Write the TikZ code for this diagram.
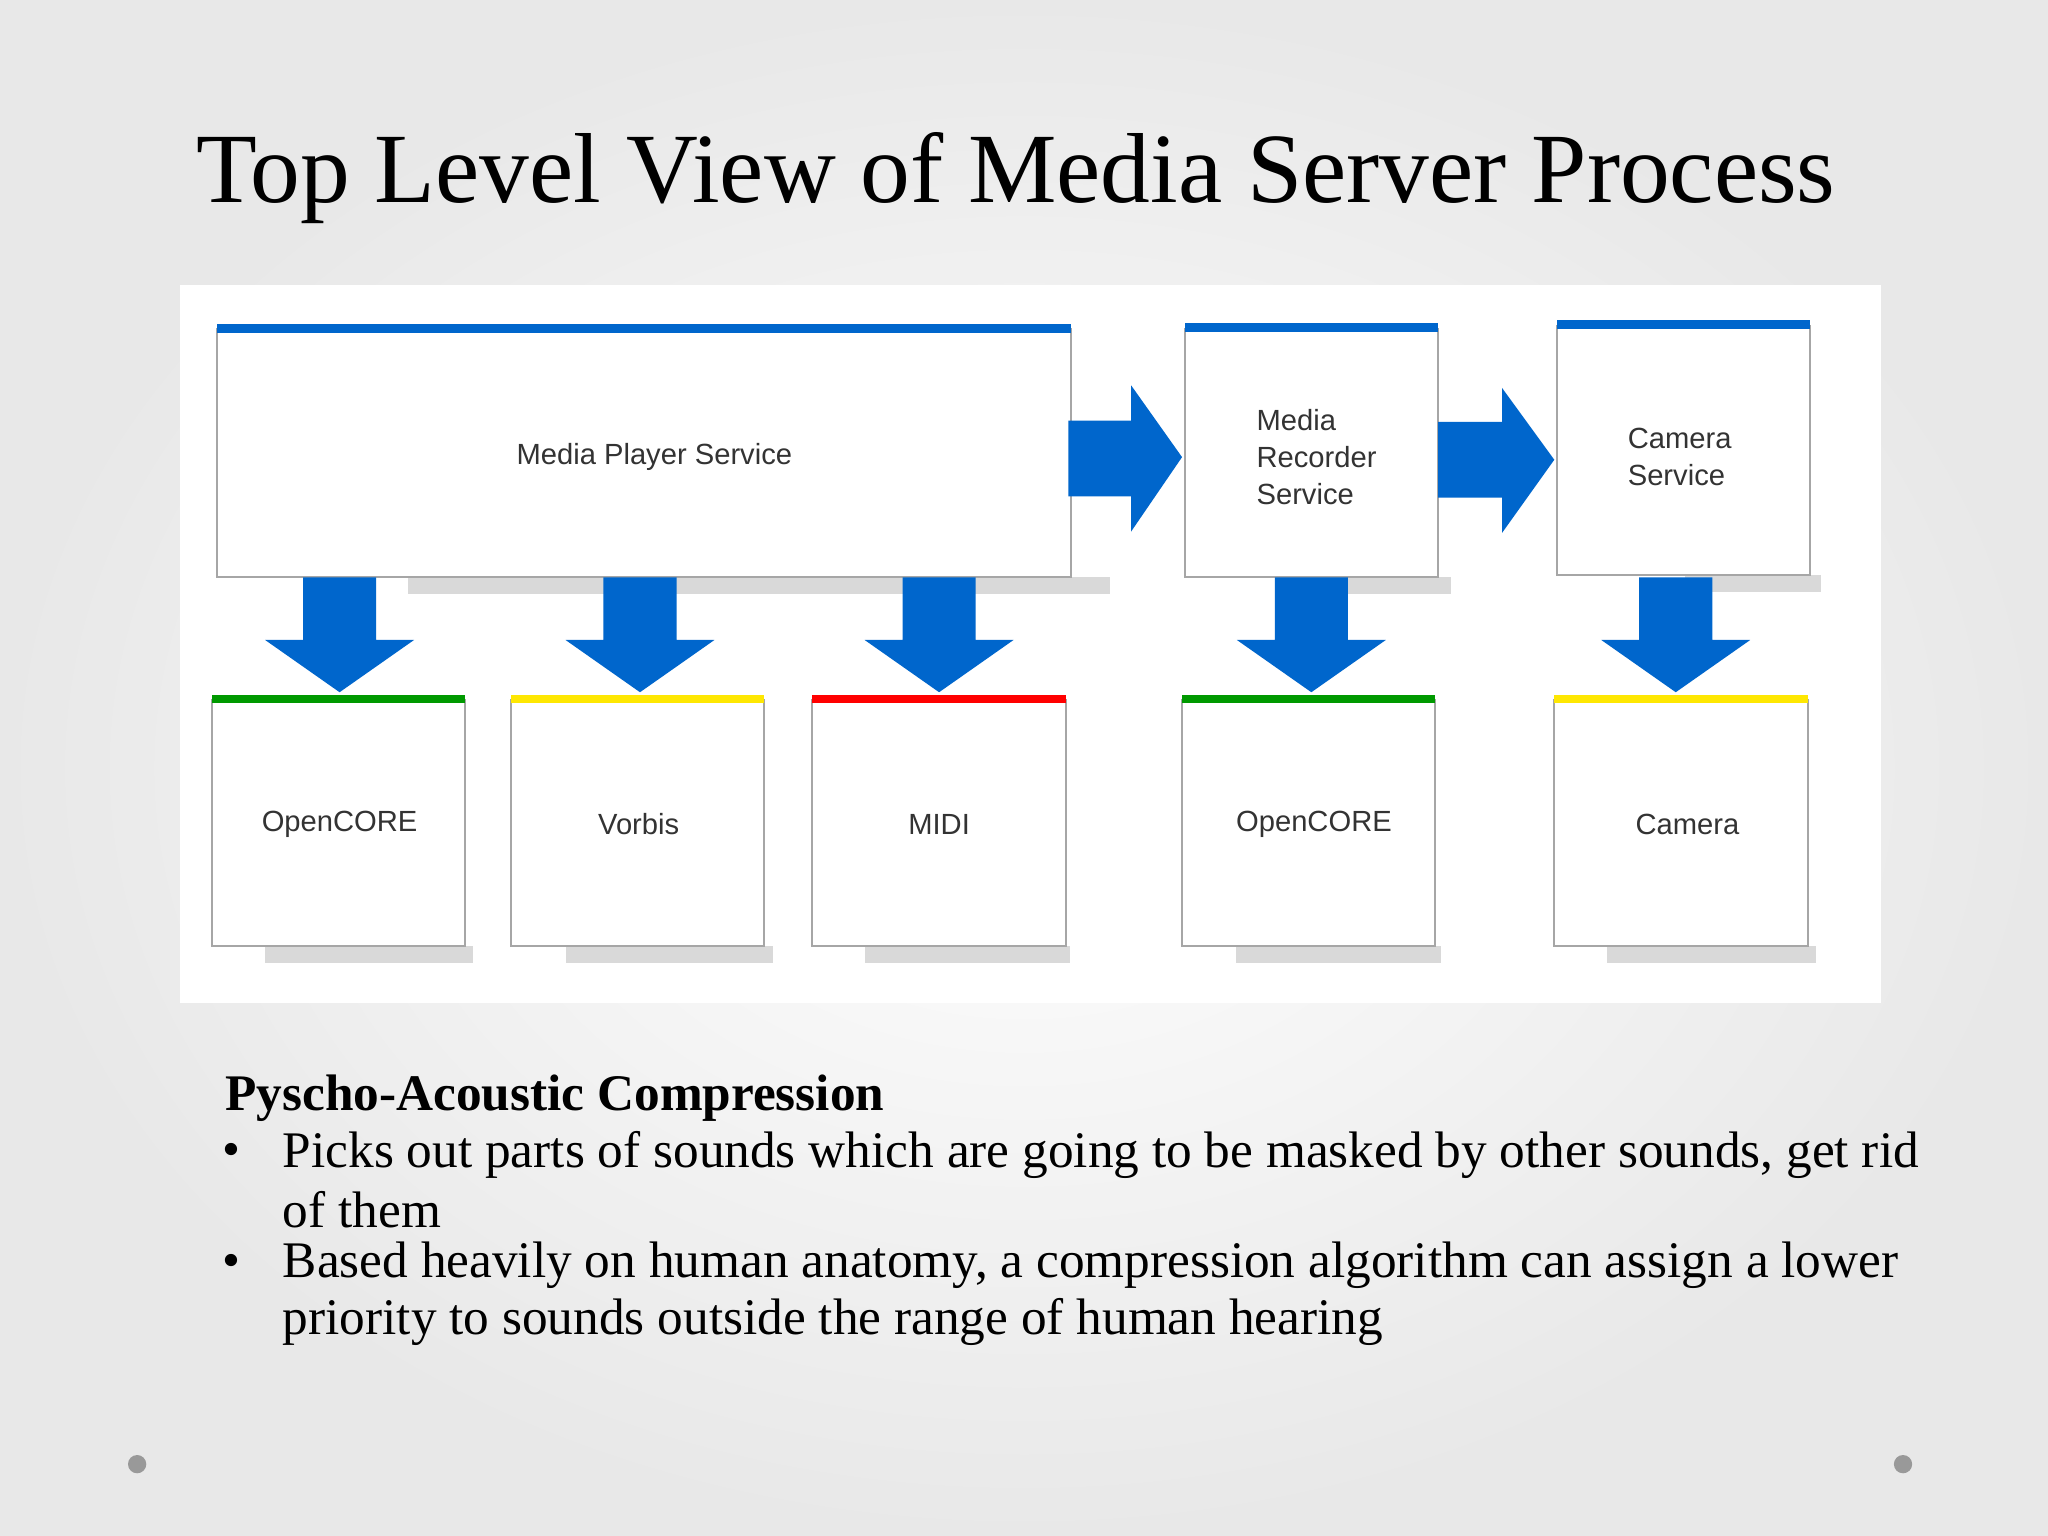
\documentclass[tikz,border=0pt]{standalone}
\usepackage{fontspec}
\setmainfont{Liberation Serif}
\newfontfamily\boxfont{Liberation Sans}
\definecolor{arrblue}{HTML}{0066CC}
\begin{document}
\begin{tikzpicture}[x=0.013061cm,y=-0.013061cm,
  box/.style={draw=gray!70,fill=white,line width=0.6pt},
  shad/.style={fill=gray!30},
  arr/.style={fill=arrblue},
  lbl/.style={font=\boxfont\fontsize{8.3pt}{10.5pt}\selectfont,align=left,text=black!80},
  body/.style={anchor=west,font=\fontsize{14.6pt}{16pt}\selectfont,inner sep=0}]
\shade[inner color=white,outer color=gray!18] (0,0) rectangle (1568,1176);
\useasboundingbox (0,0) rectangle (1568,1176);
\node[font=\fontsize{28.3pt}{32pt}\selectfont] (title) at (778,136) {Top Level View of Media Server Process};
\fill[white] (138,218) rectangle (1440,768);
% shadows
\foreach \a/\b/\c in {312/850/442, 1000/1111/442, 1290/1394/440, 203/362/724, 433/592/724, 662/819/724, 946/1103/724, 1230/1390/724}
  \fill[shad] (\a,\c) rectangle (\b,\c+13);
% boxes
\draw[box] (166,252) rectangle (820,442); \node[lbl] (mps) at (501,350) {Media Player Service};
\draw[box] (907,252) rectangle (1101,442); \node[lbl] (mrs) at (1008,350) {Media\\Recorder\\Service};
\draw[box] (1192,250) rectangle (1386,440); \node[lbl] (cs) at (1286,350) {Camera\\Service};
\foreach \x/\y/\t/\c/\n in {162/260/OpenCORE/green!60!black/o1, 391/489/Vorbis/yellow!90!orange/vo, 622/719/MIDI/red/mi, 905/1006/OpenCORE/green!60!black/o2, 1190/1292/Camera/yellow!90!orange/ca}{
  \draw[box] (\x,536) rectangle (\x+194,724);
  \fill[\c] (\x,532) rectangle (\x+194,538);
  \node[lbl] (\n) at (\y,631) {\t};
}
\fill[arrblue] (166,248) rectangle (820,255);
\fill[arrblue] (907,247) rectangle (1101,254);
\fill[arrblue] (1192,245) rectangle (1386,252);
% down arrows
\foreach \c in {260,490,719,1004,1283}
  \fill[arr] (\c-28,442) -- (\c+28,442) -- (\c+28,490) -- (\c+57,490) -- (\c,530) -- (\c-57,490) -- (\c-28,490) -- cycle;
% right arrows
\fill[arr] (818,322) -- (866,322) -- (866,295) -- (905,350) -- (866,407) -- (866,380) -- (818,380) -- cycle;
\fill[arr] (1101,323) -- (1150,323) -- (1150,297) -- (1190,352) -- (1150,408) -- (1150,381) -- (1101,381) -- cycle;
% text
\node[body,font=\bfseries\fontsize{14.6pt}{16pt}\selectfont] (h) at (172,841) {Pyscho-Acoustic Compression};
\node[body] (b1) at (170,884) {\textbullet};
\node[body] (t1) at (216,884) {Picks out parts of sounds which are going to be masked by other sounds, get rid};
\node[body] (t1b) at (216,926) {of them};
\node[body] (b2) at (170,969) {\textbullet};
\node[body] (t2) at (216,969) {Based heavily on human anatomy, a compression algorithm can assign a lower};
\node[body] (t2b) at (216,1012) {priority to sounds outside the range of human hearing};
\fill[gray!80] (105,1121) circle (7);
\fill[gray!80] (1457,1121) circle (7);
\end{tikzpicture}
\end{document}
